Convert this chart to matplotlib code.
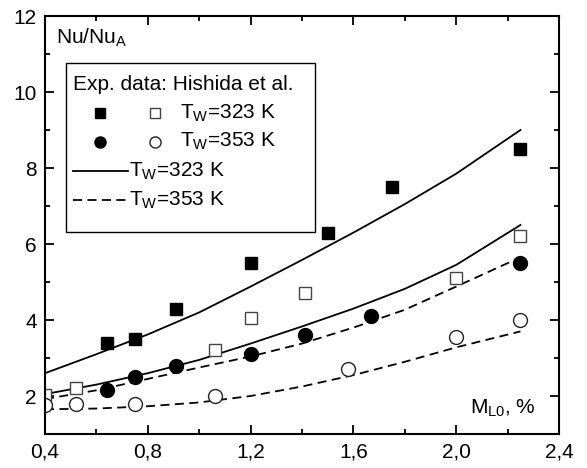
import matplotlib
matplotlib.use("Agg")
import matplotlib.pyplot as plt
from matplotlib.ticker import MultipleLocator, FuncFormatter

plt.rcParams["font.family"] = ["Liberation Sans", "DejaVu Sans"]
plt.rcParams["mathtext.fontset"] = "custom"
plt.rcParams["mathtext.rm"] = "Liberation Sans"
plt.rcParams["mathtext.it"] = "Liberation Sans"

# experimental data (Hishida et al.)
x_sq_fill = [0.64, 0.75, 0.91, 1.2, 1.5, 1.75, 2.25]
y_sq_fill = [3.4, 3.5, 4.3, 5.5, 6.3, 7.5, 8.5]
x_sq_open = [0.4, 0.52, 1.06, 1.2, 1.41, 2.0, 2.25]
y_sq_open = [2.02, 2.2, 3.2, 4.05, 4.7, 5.1, 6.2]
x_ci_fill = [0.64, 0.75, 0.91, 1.2, 1.41, 1.67, 2.25]
y_ci_fill = [2.15, 2.5, 2.8, 3.1, 3.6, 4.1, 5.5]
x_ci_open = [0.4, 0.52, 0.75, 1.06, 1.58, 2.0, 2.25]
y_ci_open = [1.76, 1.8, 1.78, 2.0, 2.7, 3.55, 4.0]

# model curves
x_model = [0.4, 0.6, 0.8, 1.0, 1.2, 1.4, 1.6, 1.8, 2.0, 2.25]
y_323_a = [2.6, 3.1, 3.62, 4.2, 4.88, 5.58, 6.3, 7.05, 7.85, 9.0]
y_323_b = [2.05, 2.3, 2.6, 2.95, 3.38, 3.83, 4.3, 4.82, 5.45, 6.5]
y_353_a = [1.92, 2.15, 2.45, 2.75, 3.04, 3.38, 3.8, 4.27, 4.88, 5.65]
y_353_b = [1.65, 1.67, 1.73, 1.83, 2.0, 2.25, 2.55, 2.9, 3.28, 3.7]

fig = plt.figure(figsize=(5.87, 4.68), dpi=100)
ax = fig.add_axes([45 / 587, 1 - 434 / 468, 514 / 587, 418 / 468])

lw = 1.3
fs = 15
ax.plot(x_model, y_323_a, "k-", lw=lw)
ax.plot(x_model, y_323_b, "k-", lw=lw)
ax.plot(x_model, y_353_a, "k--", lw=lw, dashes=(5, 3))
ax.plot(x_model, y_353_b, "k--", lw=lw, dashes=(5, 3))

ax.plot(x_sq_fill, y_sq_fill, "s", color="black", ms=9, ls="none")
ax.plot(x_sq_open, y_sq_open, "s", mfc="white", mec="#444444", mew=1.0, ms=9, ls="none")
ax.plot(x_ci_fill, y_ci_fill, "o", color="black", ms=10, ls="none")
ax.plot(x_ci_open, y_ci_open, "o", mfc="white", mec="#222222", mew=1.0, ms=10, ls="none")

ax.set_xlim(0.4, 2.4)
ax.set_ylim(1, 12)
ax.xaxis.set_major_locator(MultipleLocator(0.4))
ax.xaxis.set_minor_locator(MultipleLocator(0.2))
ax.yaxis.set_major_locator(MultipleLocator(2))
ax.yaxis.set_minor_locator(MultipleLocator(1))
ax.xaxis.set_major_formatter(FuncFormatter(lambda v, p: f"{v:.1f}".replace(".", ",")))
ax.tick_params(which="both", direction="in", top=True, right=True, width=1.3, labelsize=fs, pad=6)
ax.tick_params(which="major", length=6.5)
ax.tick_params(which="minor", length=3.5)
for s in ax.spines.values():
    s.set_linewidth(1.5)

ax.text(0.022, 0.947, "Nu/Nu$_{\\mathregular{A}}$", transform=ax.transAxes, fontsize=fs, va="center")
ax.text(0.955, 0.062, "M$_{\\mathregular{L0}}$, %", transform=ax.transAxes, fontsize=fs, va="center", ha="right")

# legend box drawn by hand
t = ax.transAxes
ax.add_patch(plt.Rectangle((0.041, 0.483), 0.484, 0.405, transform=t, fill=False, lw=1.0, ec="black"))
ax.text(0.054, 0.835, "Exp. data: Hishida et al.", transform=t, fontsize=fs, va="center")
ax.plot([0.107], [0.768], "s", color="black", ms=7, transform=t)
ax.plot([0.214], [0.768], "s", mfc="white", mec="#444444", mew=1.0, ms=7, transform=t)
ax.text(0.262, 0.768, "T$_{\\mathregular{W}}$=323 K", transform=t, fontsize=fs, va="center")
ax.plot([0.107], [0.699], "o", color="black", ms=8, transform=t)
ax.plot([0.214], [0.699], "o", mfc="white", mec="#222222", mew=1.0, ms=8, transform=t)
ax.text(0.262, 0.699, "T$_{\\mathregular{W}}$=353 K", transform=t, fontsize=fs, va="center")
ax.plot([0.054, 0.161], [0.629, 0.629], "k-", lw=lw, transform=t)
ax.text(0.163, 0.629, "T$_{\\mathregular{W}}$=323 K", transform=t, fontsize=fs, va="center")
ax.plot([0.054, 0.161], [0.56, 0.56], "k--", lw=lw, dashes=(5, 3), transform=t)
ax.text(0.163, 0.56, "T$_{\\mathregular{W}}$=353 K", transform=t, fontsize=fs, va="center")

fig.savefig("out.png", dpi=100)
